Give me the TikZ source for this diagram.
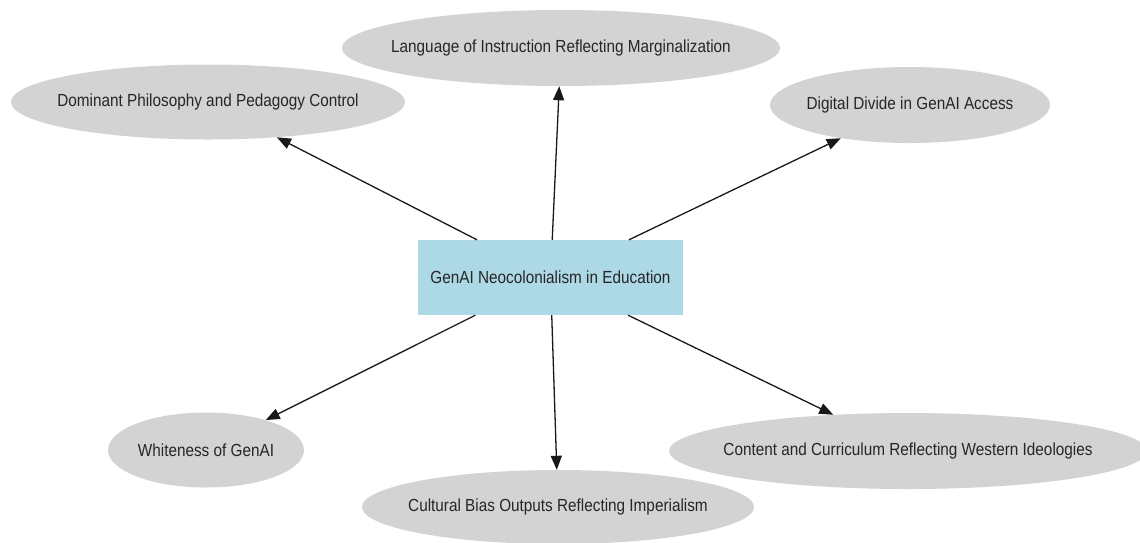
\documentclass[tikz,border=0pt]{standalone}
\usepackage{fontspec}
\setmainfont{Liberation Sans}
\usetikzlibrary{shapes.geometric,arrows.meta}
\definecolor{ellfill}{HTML}{D3D3D3}
\definecolor{boxfill}{HTML}{ADD8E6}
\newcommand{\lbl}[1]{\makebox[0pt][c]{\scalebox{0.875}[1]{#1}}}
\tikzset{
  ell/.style={ellipse, fill=ellfill, draw=none, inner sep=0pt, font=\fontsize{17.5}{20}\selectfont, text=black!85},
  mainbox/.style={rectangle, fill=boxfill, draw=none, inner sep=0pt, minimum width=265pt, minimum height=75pt, font=\fontsize{17.5}{20}\selectfont, text=black!85},
  edge/.style={-{Triangle[length=14pt,width=11pt]}, line width=1.3pt, black!90}
}
\begin{document}
\begin{tikzpicture}[x=1pt,y=-1pt]
\useasboundingbox (0,0) rectangle (1140,542);
\clip (0,0) rectangle (1140,542);
\node[mainbox] (c) at (550.5,277.5) {\lbl{GenAI Neocolonialism in Education}};
\node[ell, minimum width=438pt, minimum height=76pt] (lang) at (561,48) {\lbl{Language of Instruction Reflecting Marginalization}};
\node[ell, minimum width=394pt, minimum height=75pt] (dom) at (208,102) {\lbl{Dominant Philosophy and Pedagogy Control}};
\node[ell, minimum width=280pt, minimum height=76pt] (dig) at (910,105) {\lbl{Digital Divide in GenAI Access}};
\node[ell, minimum width=196pt, minimum height=75pt] (white) at (206,450) {\lbl{Whiteness of GenAI}};
\node[ell, minimum width=392pt, minimum height=74pt] (cult) at (558,507) {\lbl{Cultural Bias Outputs Reflecting Imperialism}};
\node[ell, minimum width=478pt, minimum height=76pt] (cont) at (908,451) {\lbl{Content and Curriculum Reflecting Western Ideologies}};
\draw[edge] (c) -- (dom);
\draw[edge] (c) -- (lang);
\draw[edge] (c) -- (dig);
\draw[edge] (c) -- (white);
\draw[edge] (c) -- (cult);
\draw[edge] (c) -- (cont);
\end{tikzpicture}
\end{document}
